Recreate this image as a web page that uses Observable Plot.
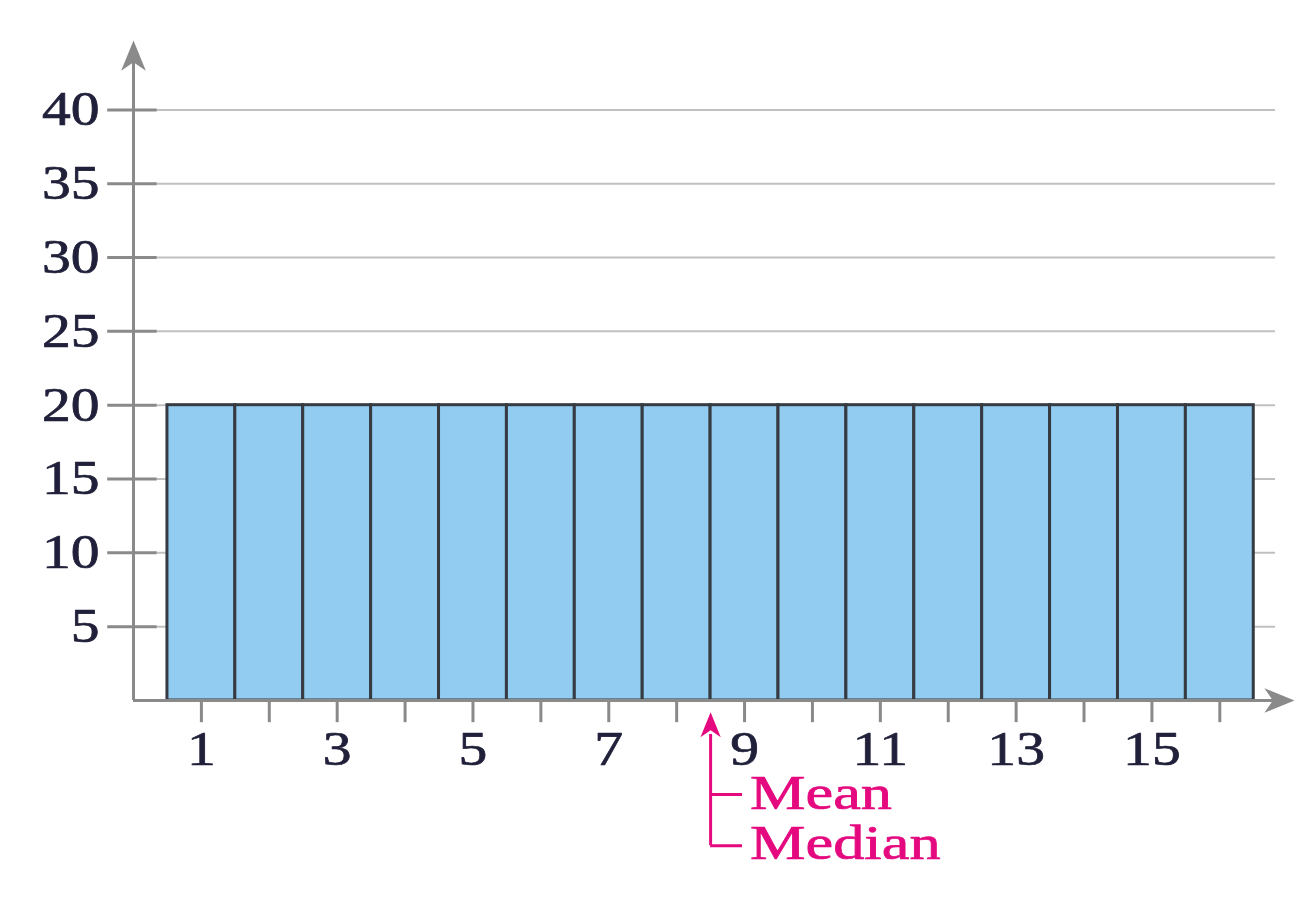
<!DOCTYPE html>
<html>
<head>
<meta charset="utf-8">
<script src="https://cdn.jsdelivr.net/npm/d3@7"></script>
<script src="https://cdn.jsdelivr.net/npm/@observablehq/plot@0.6"></script>
<style>
  html, body { margin: 0; padding: 0; background: #ffffff; }
  #chart svg { display: block; }
</style>
</head>
<body>
<div id="chart"></div>
<script>
// ---- data ----
const bins = [1, 2, 3, 4, 5, 6, 7, 8, 9, 10, 11, 12, 13, 14, 15, 16];
const counts = [20, 20, 20, 20, 20, 20, 20, 20, 20, 20, 20, 20, 20, 20, 20, 20];
const yTickValues = [5, 10, 15, 20, 25, 30, 35, 40];
const xTickValues = [1, 2, 3, 4, 5, 6, 7, 8, 9, 10, 11, 12, 13, 14, 15, 16];
const xTickLabels = [1, 3, 5, 7, 9, 11, 13, 15];
const meanMedianValue = 8.5;
const annotationLabels = ["Mean", "Median"];

const table = bins.map((b, i) => ({ x1: b - 0.5, x2: b + 0.5, y: counts[i] }));

// stealth-style filled arrowhead, tip at origin pointing up
const stealth = {
  draw(ctx, size) {
    const L = Math.sqrt(size);
    const w = L * 0.82;
    ctx.moveTo(0, 0);
    ctx.lineTo(w / 2, L);
    ctx.lineTo(0, L * 0.72);
    ctx.lineTo(-w / 2, L);
    ctx.closePath();
  }
};

const axisGray = "#8a8a8a";
const gridGray = "#c0c0c0";
const pink = "#e5097f";
const ink = "#20203a";
const serif = "'Liberation Serif', 'DejaVu Serif', serif";

const chart = Plot.plot({
  width: 1297,
  height: 901,
  marginLeft: 133,
  marginRight: 3,
  marginTop: 40,
  marginBottom: 201,
  style: { fontFamily: serif, background: "#ffffff", overflow: "visible" },
  x: { domain: [0, 17.1], axis: null },
  y: { domain: [0, 44.7], axis: null },
  marks: [
    // gridlines
    Plot.ruleY(yTickValues, { y: d => d, x1: 0.35, x2: 16.82, stroke: gridGray, strokeWidth: 2 }),
    // y tick marks
    Plot.ruleY(yTickValues, { y: d => d, x1: -0.38, x2: 0.35, stroke: axisGray, strokeWidth: 3 }),
    // bars
    Plot.rectY(table, { x1: "x1", x2: "x2", y: "y", fill: "#92ccf0", stroke: "#353b41", strokeWidth: 3, inset: 0 }),
    // x tick marks
    Plot.ruleX(xTickValues, { x: d => d, y1: 0, y2: -1.5, stroke: axisGray, strokeWidth: 3 }),
    // axes lines
    Plot.ruleY([0], { x1: 0, x2: 16.9, stroke: axisGray, strokeWidth: 3 }),
    Plot.ruleX([0], { y1: 0, y2: 44.2, stroke: axisGray, strokeWidth: 3 }),
    Plot.dot([0], { x: 0, y: 44.7, symbol: stealth, r: 17, fill: axisGray, stroke: null }),
    Plot.dot([0], { x: 17.1, y: 0, symbol: stealth, r: 17, fill: axisGray, stroke: null, rotate: 90 }),
    // tick labels
    Plot.text(yTickValues, { x: 0, y: d => d, text: d => String(d), dx: -34, textAnchor: "end", fontSize: 48, fill: ink, stroke: ink, strokeWidth: 0.7, fontFamily: serif }),
    Plot.text(xTickLabels, { x: d => d, y: 0, text: d => String(d), dy: 49, fontSize: 48, fill: ink, stroke: ink, strokeWidth: 0.7, fontFamily: serif }),
    // mean / median annotation
    Plot.ruleX([meanMedianValue], { x: d => d, y1: -9.83, y2: -2.3, stroke: pink, strokeWidth: 3 }),
    Plot.dot([meanMedianValue], { x: d => d, y: -0.8, symbol: stealth, r: 14, fill: pink, stroke: null }),
    Plot.ruleY([-6.37, -9.83], { y: d => d, x1: meanMedianValue, x2: 8.97, stroke: pink, strokeWidth: 3 }),
    Plot.text(annotationLabels, { x: 9.08, y: (d, i) => [-6.3, -9.7][i], text: d => d, textAnchor: "start", fontSize: 48, fill: pink, stroke: pink, strokeWidth: 0.7, fontFamily: serif })
  ]
});

document.getElementById("chart").appendChild(chart);

// horizontally widen the serif labels, as in the reference
d3.select(chart).selectAll("text").each(function () {
  const w = this.getComputedTextLength();
  if (!w) return;
  const sx = annotationLabels.includes(this.textContent) ? 1.3 : 1.2;
  this.setAttribute("textLength", (w * sx).toFixed(1));
  this.setAttribute("lengthAdjust", "spacingAndGlyphs");
});
</script>
</body>
</html>
